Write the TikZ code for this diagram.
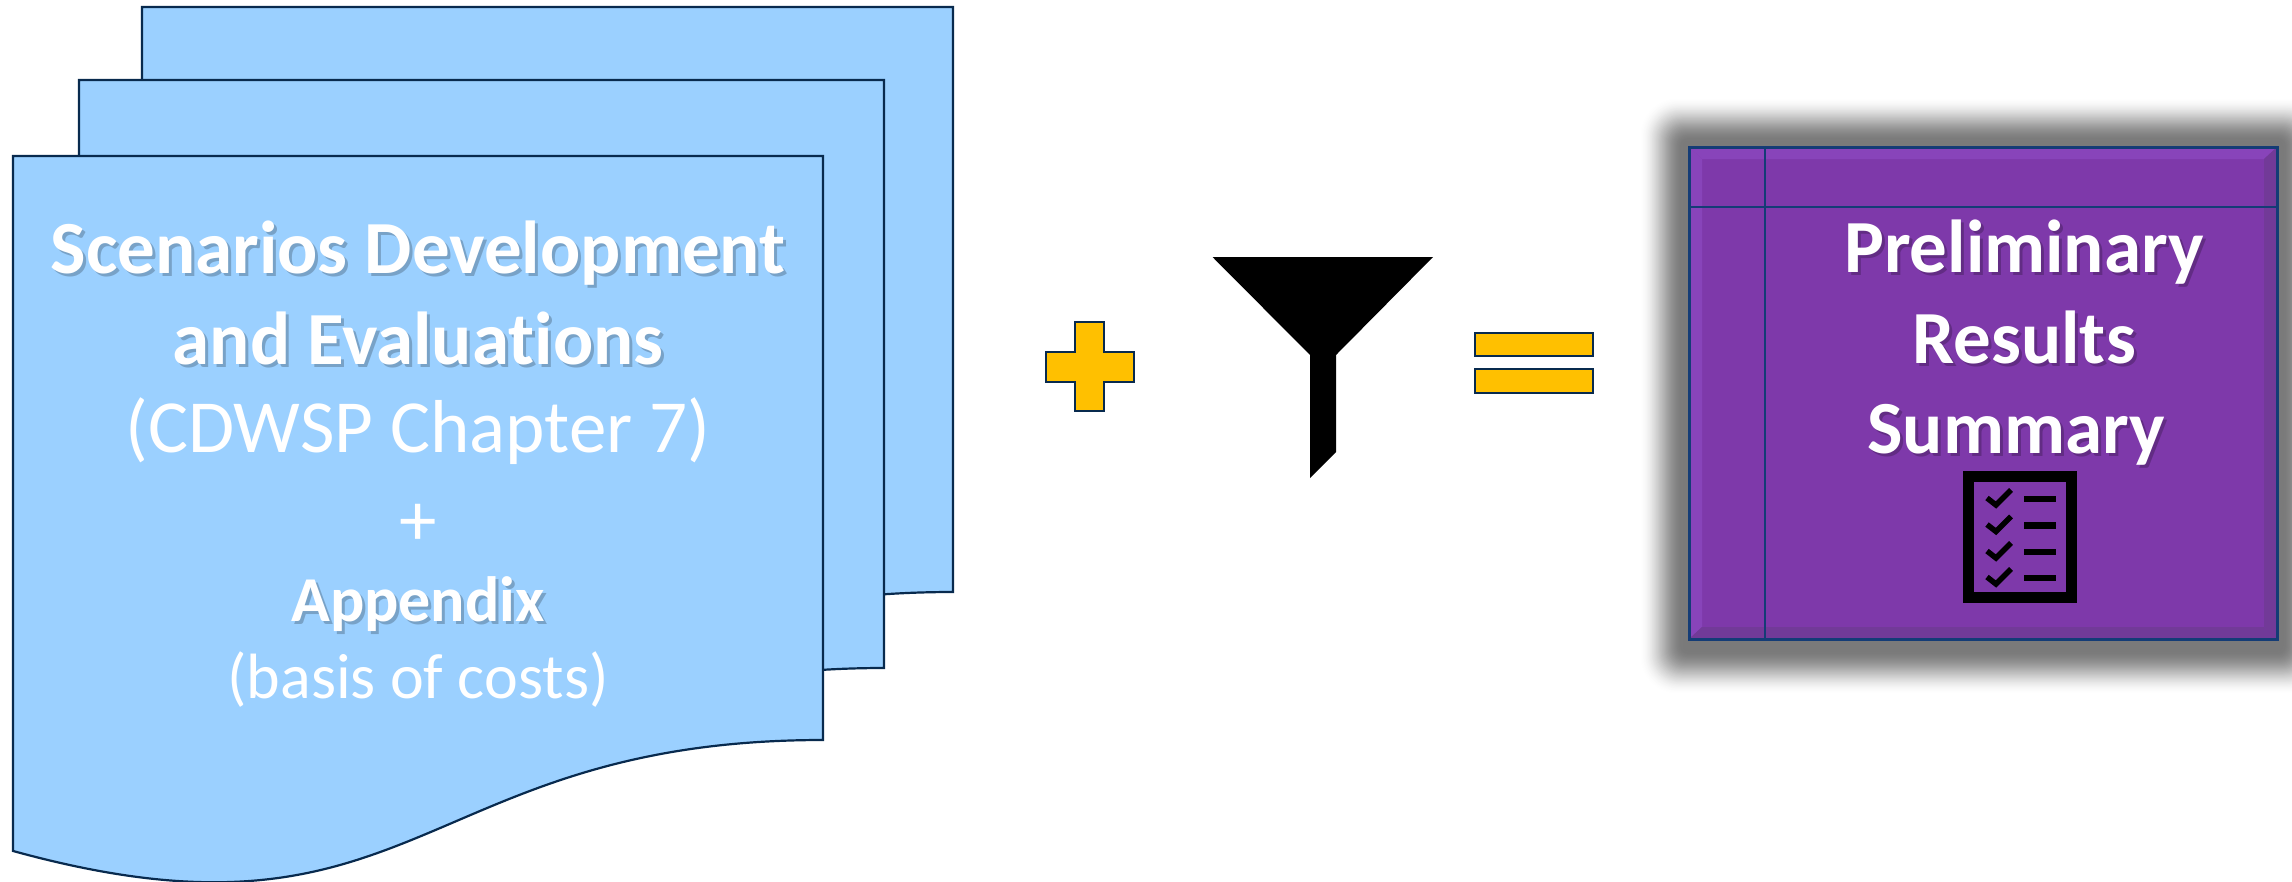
\documentclass[tikz,border=0pt]{standalone}
\usepackage{fontspec}
\setmainfont{Carlito}[RawFeature={-liga;-clig}]
\tikzset{
  x=1pt,y=-1pt,
  docsheet/.style={fill=docblue,draw=navyline,line width=2.2pt,line join=miter},
  symb/.style={fill=symbgold,draw=navyline,line width=2.8pt,line join=miter},
  big/.style={font=\fontsize{75}{80}\selectfont},
  bigb/.style={font=\bfseries\fontsize{75}{80}\selectfont},
  mid/.style={font=\fontsize{64}{70}\selectfont},
  midb/.style={font=\bfseries\fontsize{64}{70}\selectfont},
  label/.style={anchor=base,inner sep=0pt,text=white},
  shade/.style={anchor=base,inner sep=0pt,text=black,opacity=.22},
  boxline/.style={draw=boxnavy,line width=2pt},
  iconline/.style={draw=black,line width=6.5pt,line cap=butt,line join=miter},
}
\definecolor{docblue}{RGB}{155,208,255}
\definecolor{navyline}{RGB}{8,42,78}
\definecolor{symbgold}{RGB}{255,192,0}
\definecolor{boxpurple}{RGB}{126,57,170}
\definecolor{bevellight}{RGB}{136,68,186}
\definecolor{beveldark}{RGB}{114,58,152}
\definecolor{boxnavy}{RGB}{20,60,118}
\newcommand{\docsheetat}[4]{% left,right,top,righty
  \pgfmathsetmacro{\wdoc}{#2-#1}
  \pgfmathsetmacro{\hdoc}{#4-#3}
  \draw[docsheet] (#1,#3) -- (#2,#3) -- (#2,#4)
    .. controls ({#1+0.5*\wdoc},#4) and ({#1+0.5*\wdoc},{#3+1.381*\hdoc}) ..
    (#1,{#3+1.19*\hdoc}) -- cycle;
}
\newcommand{\softtext}[4]{% x,y,style,text
  \node[shade,#3] (s#1) at (#1+3,#2+3) {#4};
  \node[label,#3] (t#1) at (#1,#2) {#4};
}
\begin{document}
\begin{tikzpicture}
\useasboundingbox (0,0) rectangle (2292,881);
\fill[white] (0,0) rectangle (2292,881);

% stacked document sheets
\docsheetat{142}{953}{7}{592}
\docsheetat{79}{884}{80}{668}
\docsheetat{13}{823}{156}{740}

% sheet text
\softtext{418}{273}{bigb}{Scenarios Development}
\softtext{418}{364}{bigb}{and Evaluations}
\node[label,big] (chap) at (418,452) {(CDWSP Chapter 7)};
\node[label,big] (plusinner) at (418,545) {+};
\softtext{418}{621}{midb}{Appendix}
\node[label,mid] (costs) at (418,698) {(basis of costs)};

% plus
\draw[symb] (1075,322) -- (1104,322) -- (1104,352) -- (1134,352) -- (1134,382) -- (1104,382)
  -- (1104,411) -- (1075,411) -- (1075,382) -- (1046,382) -- (1046,352) -- (1075,352) -- cycle;

% funnel
\fill[black] (1212.5,257) -- (1433,257) -- (1336,355) -- (1336,452) -- (1310,478) -- (1310,355) -- cycle;

% equals
\draw[symb] (1475,333) rectangle (1593,356);
\draw[symb] (1475,369) rectangle (1593,393);

% soft shadow of the box
\begin{scope}
\clip (0,0) rectangle (2292,881);
\foreach \i in {0,...,41}{
  \pgfmathsetmacro{\sht}{\i/41}
  \pgfmathsetmacro{\shv}{52*\sht*\sht*(3-2*\sht)}
  \pgfmathsetmacro{\sho}{50-44*\sht}
  \pgfmathsetmacro{\shr}{38-32*\sht}
  \fill[black!\shv,rounded corners=\shr pt]
    ({1689-\sho},{147-\sho}) rectangle ({2277+\sho},{639+\sho+6});
}
\end{scope}

% purple box with bevel
\fill[boxpurple] (1689,147) rectangle (2277,639);
\fill[bevellight] (1689,147) -- (2277,147) -- (2264,159) -- (1702,159) -- cycle;
\fill[bevellight] (1689,147) -- (1702,159) -- (1702,627) -- (1689,639) -- cycle;
\fill[beveldark] (1689,639) -- (2277,639) -- (2264,627) -- (1702,627) -- cycle;
\fill[beveldark] (2277,147) -- (2277,639) -- (2264,627) -- (2264,159) -- cycle;
\draw[boxline] (1765,147) -- (1765,639);
\draw[boxline] (1689,207) -- (2277,207);
\draw[boxnavy,line width=3pt] (1689,147) rectangle (2277,639);

% box text
\softtext{2024}{272}{bigb}{Preliminary}
\softtext{2024.1}{363}{bigb}{Results}
\softtext{2016}{453}{bigb}{Summary}

% checklist icon
\draw[black,line width=11pt] (1968.5,476.5) rectangle (2071.5,597.5);
\foreach \cy in {499,525.5,552,578}{
  \draw[iconline,line width=5.5pt] (1987,\cy-1) -- (1996,\cy+6) -- (2011,\cy-9);
  \draw[iconline] (2024,\cy) -- (2056,\cy);
}
\end{tikzpicture}
\end{document}
